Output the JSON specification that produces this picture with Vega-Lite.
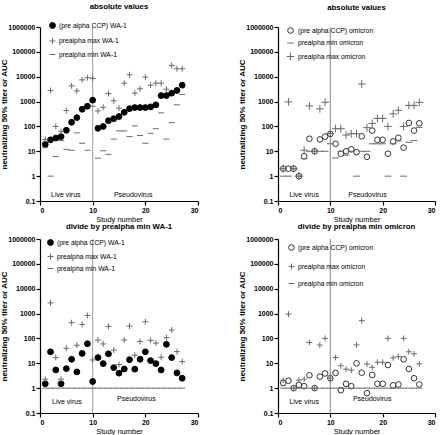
{
  "$schema": "https://vega.github.io/schema/vega-lite/v6.json",
  "padding": {"left": 0, "top": 3, "right": 2, "bottom": 0},
  "spacing": 0,
  "config": {
    "font": "Liberation Sans",
    "view": {"stroke": null},
    "axis": {"grid": false, "labelFontSize": 7, "labelFontWeight": "bold", "labelColor": "black", "titleFontSize": 8, "titleFontWeight": "bold", "titleColor": "black", "domainColor": "black", "tickColor": "black", "domainWidth": 1.2, "tickWidth": 1.2, "tickSize": 4, "labelPadding": 1},
    "title": {"fontSize": 7.8, "fontWeight": "bold", "color": "black", "offset": 6},
    "legend": {"labelFontSize": 6.8, "labelColor": "#000000", "labelFont": "Liberation Sans", "orient": "none", "legendX": 8, "legendY": -2, "rowPadding": 3, "labelOffset": 3, "symbolStrokeWidth": 1, "symbolOpacity": 1, "title": null, "labelLimit": 200}
  },
  "datasets": {
    "tl": [
      {"n":1,"v":19,"s":"(pre alpha CCP) WA-1"},{"n":2,"v":29,"s":"(pre alpha CCP) WA-1"},{"n":3,"v":34,"s":"(pre alpha CCP) WA-1"},{"n":4,"v":39,"s":"(pre alpha CCP) WA-1"},{"n":5,"v":70,"s":"(pre alpha CCP) WA-1"},{"n":6,"v":147,"s":"(pre alpha CCP) WA-1"},{"n":7,"v":227,"s":"(pre alpha CCP) WA-1"},{"n":8,"v":490,"s":"(pre alpha CCP) WA-1"},{"n":9,"v":650,"s":"(pre alpha CCP) WA-1"},{"n":10,"v":1140,"s":"(pre alpha CCP) WA-1"},{"n":11,"v":84,"s":"(pre alpha CCP) WA-1"},{"n":12,"v":100,"s":"(pre alpha CCP) WA-1"},{"n":13,"v":170,"s":"(pre alpha CCP) WA-1"},{"n":14,"v":205,"s":"(pre alpha CCP) WA-1"},{"n":15,"v":250,"s":"(pre alpha CCP) WA-1"},{"n":16,"v":370,"s":"(pre alpha CCP) WA-1"},{"n":17,"v":520,"s":"(pre alpha CCP) WA-1"},{"n":18,"v":575,"s":"(pre alpha CCP) WA-1"},{"n":19,"v":575,"s":"(pre alpha CCP) WA-1"},{"n":20,"v":575,"s":"(pre alpha CCP) WA-1"},{"n":21,"v":610,"s":"(pre alpha CCP) WA-1"},{"n":22,"v":740,"s":"(pre alpha CCP) WA-1"},{"n":23,"v":1740,"s":"(pre alpha CCP) WA-1"},{"n":24,"v":1740,"s":"(pre alpha CCP) WA-1"},{"n":25,"v":2180,"s":"(pre alpha CCP) WA-1"},{"n":26,"v":2800,"s":"(pre alpha CCP) WA-1"},{"n":27,"v":4560,"s":"(pre alpha CCP) WA-1"},
      {"n":1,"v":30,"s":"prealpha max WA-1"},{"n":2,"v":2800,"s":"prealpha max WA-1"},{"n":3,"v":100,"s":"prealpha max WA-1"},{"n":4,"v":62,"s":"prealpha max WA-1"},{"n":5,"v":435,"s":"prealpha max WA-1"},{"n":6,"v":4300,"s":"prealpha max WA-1"},{"n":7,"v":2700,"s":"prealpha max WA-1"},{"n":8,"v":7500,"s":"prealpha max WA-1"},{"n":9,"v":9100,"s":"prealpha max WA-1"},{"n":10,"v":8500,"s":"prealpha max WA-1"},{"n":11,"v":420,"s":"prealpha max WA-1"},{"n":12,"v":590,"s":"prealpha max WA-1"},{"n":13,"v":2100,"s":"prealpha max WA-1"},{"n":14,"v":1070,"s":"prealpha max WA-1"},{"n":15,"v":540,"s":"prealpha max WA-1"},{"n":16,"v":5500,"s":"prealpha max WA-1"},{"n":17,"v":12000,"s":"prealpha max WA-1"},{"n":18,"v":2180,"s":"prealpha max WA-1"},{"n":19,"v":3250,"s":"prealpha max WA-1"},{"n":20,"v":9600,"s":"prealpha max WA-1"},{"n":21,"v":4560,"s":"prealpha max WA-1"},{"n":22,"v":5500,"s":"prealpha max WA-1"},{"n":23,"v":5500,"s":"prealpha max WA-1"},{"n":24,"v":3150,"s":"prealpha max WA-1"},{"n":25,"v":28500,"s":"prealpha max WA-1"},{"n":26,"v":21000,"s":"prealpha max WA-1"},{"n":27,"v":21000,"s":"prealpha max WA-1"},
      {"n":1,"v":14,"s":"prealpha min WA-1"},{"n":2,"v":1,"s":"prealpha min WA-1"},{"n":3,"v":6.2,"s":"prealpha min WA-1"},{"n":4,"v":27,"s":"prealpha min WA-1"},{"n":5,"v":12,"s":"prealpha min WA-1"},{"n":6,"v":11,"s":"prealpha min WA-1"},{"n":7,"v":55,"s":"prealpha min WA-1"},{"n":8,"v":21,"s":"prealpha min WA-1"},{"n":9,"v":11,"s":"prealpha min WA-1"},{"n":10,"v":650,"s":"prealpha min WA-1"},{"n":11,"v":5.3,"s":"prealpha min WA-1"},{"n":12,"v":10.5,"s":"prealpha min WA-1"},{"n":13,"v":7.5,"s":"prealpha min WA-1"},{"n":14,"v":31,"s":"prealpha min WA-1"},{"n":15,"v":66,"s":"prealpha min WA-1"},{"n":16,"v":66,"s":"prealpha min WA-1"},{"n":17,"v":39,"s":"prealpha min WA-1"},{"n":18,"v":105,"s":"prealpha min WA-1"},{"n":19,"v":43,"s":"prealpha min WA-1"},{"n":20,"v":21,"s":"prealpha min WA-1"},{"n":21,"v":53,"s":"prealpha min WA-1"},{"n":22,"v":81,"s":"prealpha min WA-1"},{"n":23,"v":350,"s":"prealpha min WA-1"},{"n":24,"v":31,"s":"prealpha min WA-1"},{"n":25,"v":142,"s":"prealpha min WA-1"},{"n":26,"v":740,"s":"prealpha min WA-1"},{"n":27,"v":1950,"s":"prealpha min WA-1"}
    ],
    "bl": [
      {"n":1,"v":1.5,"s":"(pre alpha CCP) WA-1"},{"n":2,"v":29,"s":"(pre alpha CCP) WA-1"},{"n":3,"v":5.4,"s":"(pre alpha CCP) WA-1"},{"n":4,"v":1.5,"s":"(pre alpha CCP) WA-1"},{"n":5,"v":6.1,"s":"(pre alpha CCP) WA-1"},{"n":6,"v":14.5,"s":"(pre alpha CCP) WA-1"},{"n":7,"v":4.5,"s":"(pre alpha CCP) WA-1"},{"n":8,"v":25,"s":"(pre alpha CCP) WA-1"},{"n":9,"v":61,"s":"(pre alpha CCP) WA-1"},{"n":10,"v":1.85,"s":"(pre alpha CCP) WA-1"},{"n":11,"v":17,"s":"(pre alpha CCP) WA-1"},{"n":12,"v":9.7,"s":"(pre alpha CCP) WA-1"},{"n":13,"v":24,"s":"(pre alpha CCP) WA-1"},{"n":14,"v":6.7,"s":"(pre alpha CCP) WA-1"},{"n":15,"v":4.0,"s":"(pre alpha CCP) WA-1"},{"n":16,"v":5.9,"s":"(pre alpha CCP) WA-1"},{"n":17,"v":14,"s":"(pre alpha CCP) WA-1"},{"n":18,"v":5.8,"s":"(pre alpha CCP) WA-1"},{"n":19,"v":14.5,"s":"(pre alpha CCP) WA-1"},{"n":20,"v":29,"s":"(pre alpha CCP) WA-1"},{"n":21,"v":12.8,"s":"(pre alpha CCP) WA-1"},{"n":22,"v":9.7,"s":"(pre alpha CCP) WA-1"},{"n":23,"v":5.4,"s":"(pre alpha CCP) WA-1"},{"n":24,"v":58,"s":"(pre alpha CCP) WA-1"},{"n":25,"v":17,"s":"(pre alpha CCP) WA-1"},{"n":26,"v":4.1,"s":"(pre alpha CCP) WA-1"},{"n":27,"v":2.5,"s":"(pre alpha CCP) WA-1"},
      {"n":1,"v":2.3,"s":"prealpha max WA-1"},{"n":2,"v":2700,"s":"prealpha max WA-1"},{"n":3,"v":17,"s":"prealpha max WA-1"},{"n":4,"v":2.3,"s":"prealpha max WA-1"},{"n":5,"v":40,"s":"prealpha max WA-1"},{"n":6,"v":430,"s":"prealpha max WA-1"},{"n":7,"v":53,"s":"prealpha max WA-1"},{"n":8,"v":365,"s":"prealpha max WA-1"},{"n":9,"v":840,"s":"prealpha max WA-1"},{"n":10,"v":13.6,"s":"prealpha max WA-1"},{"n":11,"v":86,"s":"prealpha max WA-1"},{"n":12,"v":60,"s":"prealpha max WA-1"},{"n":13,"v":305,"s":"prealpha max WA-1"},{"n":14,"v":34,"s":"prealpha max WA-1"},{"n":15,"v":8.9,"s":"prealpha max WA-1"},{"n":16,"v":86,"s":"prealpha max WA-1"},{"n":17,"v":315,"s":"prealpha max WA-1"},{"n":18,"v":21,"s":"prealpha max WA-1"},{"n":19,"v":76,"s":"prealpha max WA-1"},{"n":20,"v":470,"s":"prealpha max WA-1"},{"n":21,"v":84,"s":"prealpha max WA-1"},{"n":22,"v":65,"s":"prealpha max WA-1"},{"n":23,"v":17.5,"s":"prealpha max WA-1"},{"n":24,"v":107,"s":"prealpha max WA-1"},{"n":25,"v":217,"s":"prealpha max WA-1"},{"n":26,"v":29.5,"s":"prealpha max WA-1"},{"n":27,"v":11.7,"s":"prealpha max WA-1"},
      {"n":1,"v":1,"s":"prealpha min WA-1"},{"n":2,"v":1,"s":"prealpha min WA-1"},{"n":3,"v":1,"s":"prealpha min WA-1"},{"n":4,"v":1,"s":"prealpha min WA-1"},{"n":5,"v":1,"s":"prealpha min WA-1"},{"n":6,"v":1,"s":"prealpha min WA-1"},{"n":7,"v":1,"s":"prealpha min WA-1"},{"n":8,"v":1,"s":"prealpha min WA-1"},{"n":9,"v":1,"s":"prealpha min WA-1"},{"n":10,"v":1,"s":"prealpha min WA-1"},{"n":11,"v":1,"s":"prealpha min WA-1"},{"n":12,"v":1,"s":"prealpha min WA-1"},{"n":13,"v":1,"s":"prealpha min WA-1"},{"n":14,"v":1,"s":"prealpha min WA-1"},{"n":15,"v":1,"s":"prealpha min WA-1"},{"n":16,"v":1,"s":"prealpha min WA-1"},{"n":17,"v":1,"s":"prealpha min WA-1"},{"n":18,"v":1,"s":"prealpha min WA-1"},{"n":19,"v":1,"s":"prealpha min WA-1"},{"n":20,"v":1,"s":"prealpha min WA-1"},{"n":21,"v":1,"s":"prealpha min WA-1"},{"n":22,"v":1,"s":"prealpha min WA-1"},{"n":23,"v":1,"s":"prealpha min WA-1"},{"n":24,"v":1,"s":"prealpha min WA-1"},{"n":25,"v":1,"s":"prealpha min WA-1"},{"n":26,"v":1,"s":"prealpha min WA-1"},{"n":27,"v":1,"s":"prealpha min WA-1"}
    ],
    "tr": [
      {"n":1,"v":2,"s":"(pre alpha CCP) omicron"},{"n":2,"v":2,"s":"(pre alpha CCP) omicron"},{"n":3,"v":2,"s":"(pre alpha CCP) omicron"},{"n":4,"v":1,"s":"(pre alpha CCP) omicron"},{"n":5,"v":6.3,"s":"(pre alpha CCP) omicron"},{"n":6,"v":32,"s":"(pre alpha CCP) omicron"},{"n":7,"v":10,"s":"(pre alpha CCP) omicron"},{"n":8,"v":30,"s":"(pre alpha CCP) omicron"},{"n":9,"v":39,"s":"(pre alpha CCP) omicron"},{"n":10,"v":50,"s":"(pre alpha CCP) omicron"},{"n":11,"v":20,"s":"(pre alpha CCP) omicron"},{"n":12,"v":8,"s":"(pre alpha CCP) omicron"},{"n":13,"v":10,"s":"(pre alpha CCP) omicron"},{"n":14,"v":12,"s":"(pre alpha CCP) omicron"},{"n":15,"v":9.2,"s":"(pre alpha CCP) omicron"},{"n":16,"v":40,"s":"(pre alpha CCP) omicron"},{"n":17,"v":6,"s":"(pre alpha CCP) omicron"},{"n":18,"v":68,"s":"(pre alpha CCP) omicron"},{"n":19,"v":29,"s":"(pre alpha CCP) omicron"},{"n":20,"v":29,"s":"(pre alpha CCP) omicron"},{"n":21,"v":8,"s":"(pre alpha CCP) omicron"},{"n":22,"v":25,"s":"(pre alpha CCP) omicron"},{"n":23,"v":35,"s":"(pre alpha CCP) omicron"},{"n":24,"v":14,"s":"(pre alpha CCP) omicron"},{"n":25,"v":137,"s":"(pre alpha CCP) omicron"},{"n":26,"v":68,"s":"(pre alpha CCP) omicron"},{"n":27,"v":134,"s":"(pre alpha CCP) omicron"},
      {"n":1,"v":1,"s":"prealpha min omicron"},{"n":2,"v":1,"s":"prealpha min omicron"},{"n":3,"v":2,"s":"prealpha min omicron"},{"n":4,"v":1,"s":"prealpha min omicron"},{"n":5,"v":5,"s":"prealpha min omicron"},{"n":6,"v":10,"s":"prealpha min omicron"},{"n":7,"v":10,"s":"prealpha min omicron"},{"n":8,"v":10,"s":"prealpha min omicron"},{"n":9,"v":10,"s":"prealpha min omicron"},{"n":10,"v":20,"s":"prealpha min omicron"},{"n":11,"v":5.4,"s":"prealpha min omicron"},{"n":12,"v":10,"s":"prealpha min omicron"},{"n":13,"v":7,"s":"prealpha min omicron"},{"n":14,"v":10,"s":"prealpha min omicron"},{"n":15,"v":1,"s":"prealpha min omicron"},{"n":16,"v":10,"s":"prealpha min omicron"},{"n":17,"v":10,"s":"prealpha min omicron"},{"n":18,"v":20,"s":"prealpha min omicron"},{"n":19,"v":20,"s":"prealpha min omicron"},{"n":20,"v":20,"s":"prealpha min omicron"},{"n":21,"v":1,"s":"prealpha min omicron"},{"n":22,"v":20,"s":"prealpha min omicron"},{"n":23,"v":26,"s":"prealpha min omicron"},{"n":24,"v":1,"s":"prealpha min omicron"},{"n":25,"v":23,"s":"prealpha min omicron"},{"n":26,"v":27,"s":"prealpha min omicron"},{"n":27,"v":92,"s":"prealpha min omicron"},
      {"n":1,"v":2,"s":"prealpha max omicron"},{"n":2,"v":970,"s":"prealpha max omicron"},{"n":3,"v":2,"s":"prealpha max omicron"},{"n":4,"v":1,"s":"prealpha max omicron"},{"n":5,"v":11,"s":"prealpha max omicron"},{"n":6,"v":670,"s":"prealpha max omicron"},{"n":7,"v":10,"s":"prealpha max omicron"},{"n":8,"v":510,"s":"prealpha max omicron"},{"n":9,"v":940,"s":"prealpha max omicron"},{"n":10,"v":52,"s":"prealpha max omicron"},{"n":11,"v":81,"s":"prealpha max omicron"},{"n":12,"v":81,"s":"prealpha max omicron"},{"n":13,"v":45,"s":"prealpha max omicron"},{"n":14,"v":51,"s":"prealpha max omicron"},{"n":15,"v":51,"s":"prealpha max omicron"},{"n":16,"v":5100,"s":"prealpha max omicron"},{"n":17,"v":89,"s":"prealpha max omicron"},{"n":18,"v":132,"s":"prealpha max omicron"},{"n":19,"v":210,"s":"prealpha max omicron"},{"n":20,"v":210,"s":"prealpha max omicron"},{"n":21,"v":100,"s":"prealpha max omicron"},{"n":22,"v":320,"s":"prealpha max omicron"},{"n":23,"v":446,"s":"prealpha max omicron"},{"n":24,"v":100,"s":"prealpha max omicron"},{"n":25,"v":700,"s":"prealpha max omicron"},{"n":26,"v":700,"s":"prealpha max omicron"},{"n":27,"v":930,"s":"prealpha max omicron"}
    ],
    "br": [
      {"n":1,"v":1.6,"s":"(pre alpha CCP) omicron"},{"n":2,"v":2.0,"s":"(pre alpha CCP) omicron"},{"n":3,"v":1,"s":"(pre alpha CCP) omicron"},{"n":4,"v":1.35,"s":"(pre alpha CCP) omicron"},{"n":5,"v":1.2,"s":"(pre alpha CCP) omicron"},{"n":6,"v":3.3,"s":"(pre alpha CCP) omicron"},{"n":7,"v":1,"s":"(pre alpha CCP) omicron"},{"n":8,"v":2.9,"s":"(pre alpha CCP) omicron"},{"n":9,"v":3.9,"s":"(pre alpha CCP) omicron"},{"n":10,"v":2.5,"s":"(pre alpha CCP) omicron"},{"n":11,"v":4.1,"s":"(pre alpha CCP) omicron"},{"n":12,"v":0.83,"s":"(pre alpha CCP) omicron"},{"n":13,"v":1.5,"s":"(pre alpha CCP) omicron"},{"n":14,"v":1.2,"s":"(pre alpha CCP) omicron"},{"n":15,"v":10,"s":"(pre alpha CCP) omicron"},{"n":16,"v":4.2,"s":"(pre alpha CCP) omicron"},{"n":17,"v":0.63,"s":"(pre alpha CCP) omicron"},{"n":18,"v":3.4,"s":"(pre alpha CCP) omicron"},{"n":19,"v":1.5,"s":"(pre alpha CCP) omicron"},{"n":20,"v":1.5,"s":"(pre alpha CCP) omicron"},{"n":21,"v":8.5,"s":"(pre alpha CCP) omicron"},{"n":22,"v":1.3,"s":"(pre alpha CCP) omicron"},{"n":23,"v":1.4,"s":"(pre alpha CCP) omicron"},{"n":24,"v":14.5,"s":"(pre alpha CCP) omicron"},{"n":25,"v":5.9,"s":"(pre alpha CCP) omicron"},{"n":26,"v":2.5,"s":"(pre alpha CCP) omicron"},{"n":27,"v":1.4,"s":"(pre alpha CCP) omicron"},
      {"n":1,"v":2.1,"s":"prealpha max omicron"},{"n":2,"v":950,"s":"prealpha max omicron"},{"n":3,"v":1,"s":"prealpha max omicron"},{"n":4,"v":2.1,"s":"prealpha max omicron"},{"n":5,"v":2.3,"s":"prealpha max omicron"},{"n":6,"v":69,"s":"prealpha max omicron"},{"n":7,"v":1,"s":"prealpha max omicron"},{"n":8,"v":54,"s":"prealpha max omicron"},{"n":9,"v":100,"s":"prealpha max omicron"},{"n":10,"v":2.5,"s":"prealpha max omicron"},{"n":11,"v":17,"s":"prealpha max omicron"},{"n":12,"v":7.9,"s":"prealpha max omicron"},{"n":13,"v":5.8,"s":"prealpha max omicron"},{"n":14,"v":5.3,"s":"prealpha max omicron"},{"n":15,"v":55,"s":"prealpha max omicron"},{"n":16,"v":520,"s":"prealpha max omicron"},{"n":17,"v":9.4,"s":"prealpha max omicron"},{"n":18,"v":6.9,"s":"prealpha max omicron"},{"n":19,"v":11,"s":"prealpha max omicron"},{"n":20,"v":11,"s":"prealpha max omicron"},{"n":21,"v":100,"s":"prealpha max omicron"},{"n":22,"v":16.5,"s":"prealpha max omicron"},{"n":23,"v":18.6,"s":"prealpha max omicron"},{"n":24,"v":100,"s":"prealpha max omicron"},{"n":25,"v":29,"s":"prealpha max omicron"},{"n":26,"v":24,"s":"prealpha max omicron"},{"n":27,"v":9.5,"s":"prealpha max omicron"},
      {"n":1,"v":1,"s":"prealpha min omicron"},{"n":2,"v":1,"s":"prealpha min omicron"},{"n":3,"v":1,"s":"prealpha min omicron"},{"n":4,"v":1,"s":"prealpha min omicron"},{"n":5,"v":1,"s":"prealpha min omicron"},{"n":6,"v":1,"s":"prealpha min omicron"},{"n":7,"v":1,"s":"prealpha min omicron"},{"n":8,"v":1,"s":"prealpha min omicron"},{"n":9,"v":1,"s":"prealpha min omicron"},{"n":10,"v":1,"s":"prealpha min omicron"},{"n":11,"v":1,"s":"prealpha min omicron"},{"n":12,"v":1,"s":"prealpha min omicron"},{"n":13,"v":1,"s":"prealpha min omicron"},{"n":14,"v":1,"s":"prealpha min omicron"},{"n":15,"v":1,"s":"prealpha min omicron"},{"n":16,"v":1,"s":"prealpha min omicron"},{"n":17,"v":1,"s":"prealpha min omicron"},{"n":18,"v":1,"s":"prealpha min omicron"},{"n":19,"v":1,"s":"prealpha min omicron"},{"n":20,"v":1,"s":"prealpha min omicron"},{"n":21,"v":1,"s":"prealpha min omicron"},{"n":22,"v":1,"s":"prealpha min omicron"},{"n":23,"v":1,"s":"prealpha min omicron"},{"n":24,"v":1,"s":"prealpha min omicron"},{"n":25,"v":1,"s":"prealpha min omicron"},{"n":26,"v":1,"s":"prealpha min omicron"},{"n":27,"v":1,"s":"prealpha min omicron"}
    ]
  },
  "resolve": {"scale": {"shape": "independent", "fill": "independent", "stroke": "independent", "size": "independent"}, "legend": {"shape": "independent", "fill": "independent", "stroke": "independent", "size": "independent"}},
  "vconcat": [
    {
      "spacing": 39,
      "resolve": {"scale": {"shape": "independent", "fill": "independent", "stroke": "independent", "size": "independent"}, "legend": {"shape": "independent", "fill": "independent", "stroke": "independent", "size": "independent"}},
      "hconcat": [
        {
          "width": 158, "height": 174,
          "title": {"text": "absolute values", "offset": 11},
          "layer": [
            {"data": {"values": [{}]}, "mark": {"type": "rule", "color": "#999999", "strokeWidth": 1}, "encoding": {"x": {"datum": 10, "type": "quantitative"}}},
            {"data": {"values": [{}]}, "mark": {"type": "text", "fontSize": 7, "color": "black"}, "encoding": {"x": {"datum": 4.9, "type": "quantitative"}, "y": {"datum": 0.17, "type": "quantitative"}, "text": {"value": "Live virus"}}},
            {"data": {"values": [{}]}, "mark": {"type": "text", "fontSize": 7, "color": "black"}, "encoding": {"x": {"datum": 17.7, "type": "quantitative"}, "y": {"datum": 0.17, "type": "quantitative"}, "text": {"value": "Pseudovirus"}}},
            {
              "data": {"name": "tl"},
              "mark": {"type": "point", "opacity": 1, "strokeWidth": 1},
              "encoding": {
                "x": {"field": "n", "type": "quantitative", "scale": {"domain": [0, 30], "nice": false}, "axis": {"values": [0, 10, 20, 30], "title": "Study number", "titleFontWeight": "normal", "titleFontSize": 7.5, "titlePadding": 2}},
                "y": {"field": "v", "type": "quantitative", "scale": {"type": "log", "domain": [0.1, 1000000], "nice": false}, "axis": {"values": [0.1, 1, 10, 100, 1000, 10000, 100000, 1000000], "labelExpr": "datum.value < 1 ? '0.1' : format(datum.value, 'd')", "title": "neutralizing 50% titer or AUC", "titlePadding": -1}},
                "shape": {"field": "s", "type": "nominal", "scale": {"domain": ["(pre alpha CCP) WA-1", "prealpha max WA-1", "prealpha min WA-1"], "range": ["circle", "M-1,0H1M0,-1V1", "M-1,0H1"]}, "legend": {"legendX": 9, "legendY": -5, "rowPadding": 4.5}},
                "fill": {"field": "s", "type": "nominal", "scale": {"domain": ["(pre alpha CCP) WA-1", "prealpha max WA-1", "prealpha min WA-1"], "range": ["black", "transparent", "transparent"]}, "legend": {"legendX": 9, "legendY": -5, "rowPadding": 4.5}},
                "stroke": {"field": "s", "type": "nominal", "scale": {"domain": ["(pre alpha CCP) WA-1", "prealpha max WA-1", "prealpha min WA-1"], "range": ["black", "#6a6a6a", "#6a6a6a"]}, "legend": {"legendX": 9, "legendY": -5, "rowPadding": 4.5}},
                "size": {"field": "s", "type": "nominal", "scale": {"domain": ["(pre alpha CCP) WA-1", "prealpha max WA-1", "prealpha min WA-1"], "range": [34, 36, 60]}, "legend": {"legendX": 9, "legendY": -5, "rowPadding": 4.5}}
              }
            }
          ]
        },
        {
          "width": 157, "height": 174,
          "title": {"text": "absolute values", "offset": 11},
          "layer": [
            {"data": {"values": [{}]}, "mark": {"type": "rule", "color": "#999999", "strokeWidth": 1.2}, "encoding": {"x": {"datum": 10, "type": "quantitative"}}},
            {"data": {"values": [{}]}, "mark": {"type": "text", "fontSize": 7, "color": "black"}, "encoding": {"x": {"datum": 5, "type": "quantitative"}, "y": {"datum": 0.17, "type": "quantitative"}, "text": {"value": "Live virus"}}},
            {"data": {"values": [{}]}, "mark": {"type": "text", "fontSize": 7, "color": "black"}, "encoding": {"x": {"datum": 17.1, "type": "quantitative"}, "y": {"datum": 0.17, "type": "quantitative"}, "text": {"value": "Pseudovirus"}}},
            {
              "data": {"name": "tr"},
              "mark": {"type": "point", "opacity": 1, "strokeWidth": 1},
              "encoding": {
                "x": {"field": "n", "type": "quantitative", "scale": {"domain": [0, 30], "nice": false}, "axis": {"values": [0, 10, 20, 30], "title": "Study number", "titleFontWeight": "normal", "titleFontSize": 7.5, "titlePadding": 2}},
                "y": {"field": "v", "type": "quantitative", "scale": {"type": "log", "domain": [0.1, 1000000], "nice": false}, "axis": {"values": [0.1, 1, 10, 100, 1000, 10000, 100000, 1000000], "labelExpr": "datum.value < 1 ? '0.1' : format(datum.value, 'd')", "title": "neutralizing 50% titer or AUC", "titlePadding": -1}},
                "shape": {"field": "s", "type": "nominal", "scale": {"domain": ["(pre alpha CCP) omicron", "prealpha min omicron", "prealpha max omicron"], "range": ["circle", "M-1,0H1", "M-1,0H1M0,-1V1"]}, "legend": {"legendX": 8, "legendY": 0, "rowPadding": 3}},
                "fill": {"field": "s", "type": "nominal", "scale": {"domain": ["(pre alpha CCP) omicron", "prealpha min omicron", "prealpha max omicron"], "range": ["transparent", "transparent", "transparent"]}, "legend": {"legendX": 8, "legendY": 0, "rowPadding": 3}},
                "stroke": {"field": "s", "type": "nominal", "scale": {"domain": ["(pre alpha CCP) omicron", "prealpha min omicron", "prealpha max omicron"], "range": ["#333333", "#6a6a6a", "#6a6a6a"]}, "legend": {"legendX": 8, "legendY": 0, "rowPadding": 3}},
                "size": {"field": "s", "type": "nominal", "scale": {"domain": ["(pre alpha CCP) omicron", "prealpha min omicron", "prealpha max omicron"], "range": [32, 60, 36]}, "legend": {"legendX": 8, "legendY": 0, "rowPadding": 3}}
              }
            }
          ]
        }
      ]
    },
    {
      "spacing": 39,
      "resolve": {"scale": {"shape": "independent", "fill": "independent", "stroke": "independent", "size": "independent"}, "legend": {"shape": "independent", "fill": "independent", "stroke": "independent", "size": "independent"}},
      "hconcat": [
        {
          "width": 158, "height": 174,
          "title": {"text": "divide by prealpha min WA-1", "offset": 4},
          "layer": [
            {"data": {"values": [{}]}, "mark": {"type": "rule", "color": "#999999", "strokeWidth": 1}, "encoding": {"x": {"datum": 10, "type": "quantitative"}}},
            {"data": {"values": [{}]}, "mark": {"type": "text", "fontSize": 7, "color": "black"}, "encoding": {"x": {"datum": 5.1, "type": "quantitative"}, "y": {"datum": 0.29, "type": "quantitative"}, "text": {"value": "Live virus"}}},
            {"data": {"values": [{}]}, "mark": {"type": "text", "fontSize": 7, "color": "black"}, "encoding": {"x": {"datum": 18.3, "type": "quantitative"}, "y": {"datum": 0.36, "type": "quantitative"}, "text": {"value": "Pseudovirus"}}},
            {
              "data": {"name": "bl"},
              "mark": {"type": "point", "opacity": 1, "strokeWidth": 1},
              "encoding": {
                "x": {"field": "n", "type": "quantitative", "scale": {"domain": [0, 30], "nice": false}, "axis": {"values": [0, 10, 20, 30], "title": "Study number", "titleFontWeight": "normal", "titleFontSize": 7.5, "titlePadding": 2}},
                "y": {"field": "v", "type": "quantitative", "scale": {"type": "log", "domain": [0.1, 1000000], "nice": false}, "axis": {"values": [0.1, 1, 10, 100, 1000, 10000, 100000, 1000000], "labelExpr": "datum.value < 1 ? '0.1' : format(datum.value, 'd')", "title": "neutralizing 50% titer or AUC", "titlePadding": -1}},
                "shape": {"field": "s", "type": "nominal", "scale": {"domain": ["(pre alpha CCP) WA-1", "prealpha max WA-1", "prealpha min WA-1"], "range": ["circle", "M-1,0H1M0,-1V1", "M-1,0H1"]}, "legend": {"legendX": 7, "legendY": 0, "rowPadding": 3}},
                "fill": {"field": "s", "type": "nominal", "scale": {"domain": ["(pre alpha CCP) WA-1", "prealpha max WA-1", "prealpha min WA-1"], "range": ["black", "transparent", "transparent"]}, "legend": {"legendX": 7, "legendY": 0, "rowPadding": 3}},
                "stroke": {"field": "s", "type": "nominal", "scale": {"domain": ["(pre alpha CCP) WA-1", "prealpha max WA-1", "prealpha min WA-1"], "range": ["black", "#6a6a6a", "#6a6a6a"]}, "legend": {"legendX": 7, "legendY": 0, "rowPadding": 3}},
                "size": {"field": "s", "type": "nominal", "scale": {"domain": ["(pre alpha CCP) WA-1", "prealpha max WA-1", "prealpha min WA-1"], "range": [34, 36, 60]}, "legend": {"legendX": 7, "legendY": 0, "rowPadding": 3}}
              }
            }
          ]
        },
        {
          "width": 157, "height": 174,
          "title": {"text": "divide by prealpha min omicron", "offset": 4},
          "layer": [
            {"data": {"values": [{}]}, "mark": {"type": "rule", "color": "#999999", "strokeWidth": 1.2}, "encoding": {"x": {"datum": 10, "type": "quantitative"}}},
            {"data": {"values": [{}]}, "mark": {"type": "text", "fontSize": 7, "color": "black"}, "encoding": {"x": {"datum": 5, "type": "quantitative"}, "y": {"datum": 0.29, "type": "quantitative"}, "text": {"value": "Live virus"}}},
            {"data": {"values": [{}]}, "mark": {"type": "text", "fontSize": 7, "color": "black"}, "encoding": {"x": {"datum": 18, "type": "quantitative"}, "y": {"datum": 0.36, "type": "quantitative"}, "text": {"value": "Pseudovirus"}}},
            {
              "data": {"name": "br"},
              "mark": {"type": "point", "opacity": 1, "strokeWidth": 1},
              "encoding": {
                "x": {"field": "n", "type": "quantitative", "scale": {"domain": [0, 30], "nice": false}, "axis": {"values": [0, 10, 20, 30], "title": "Study number", "titleFontWeight": "normal", "titleFontSize": 7.5, "titlePadding": 2}},
                "y": {"field": "v", "type": "quantitative", "scale": {"type": "log", "domain": [0.1, 1000000], "nice": false}, "axis": {"values": [0.1, 1, 10, 100, 1000, 10000, 100000, 1000000], "labelExpr": "datum.value < 1 ? '0.1' : format(datum.value, 'd')", "title": "neutralizing 50% titer or AUC", "titlePadding": -1}},
                "shape": {"field": "s", "type": "nominal", "scale": {"domain": ["(pre alpha CCP) omicron", "prealpha max omicron", "prealpha min omicron"], "range": ["circle", "M-1,0H1M0,-1V1", "M-1,0H1"]}, "legend": {"legendX": 10, "legendY": 5, "rowPadding": 8}},
                "fill": {"field": "s", "type": "nominal", "scale": {"domain": ["(pre alpha CCP) omicron", "prealpha max omicron", "prealpha min omicron"], "range": ["transparent", "transparent", "transparent"]}, "legend": {"legendX": 10, "legendY": 5, "rowPadding": 8}},
                "stroke": {"field": "s", "type": "nominal", "scale": {"domain": ["(pre alpha CCP) omicron", "prealpha max omicron", "prealpha min omicron"], "range": ["#333333", "#6a6a6a", "#6a6a6a"]}, "legend": {"legendX": 10, "legendY": 5, "rowPadding": 8}},
                "size": {"field": "s", "type": "nominal", "scale": {"domain": ["(pre alpha CCP) omicron", "prealpha max omicron", "prealpha min omicron"], "range": [32, 36, 60]}, "legend": {"legendX": 10, "legendY": 5, "rowPadding": 8}}
              }
            }
          ]
        }
      ]
    }
  ]
}
